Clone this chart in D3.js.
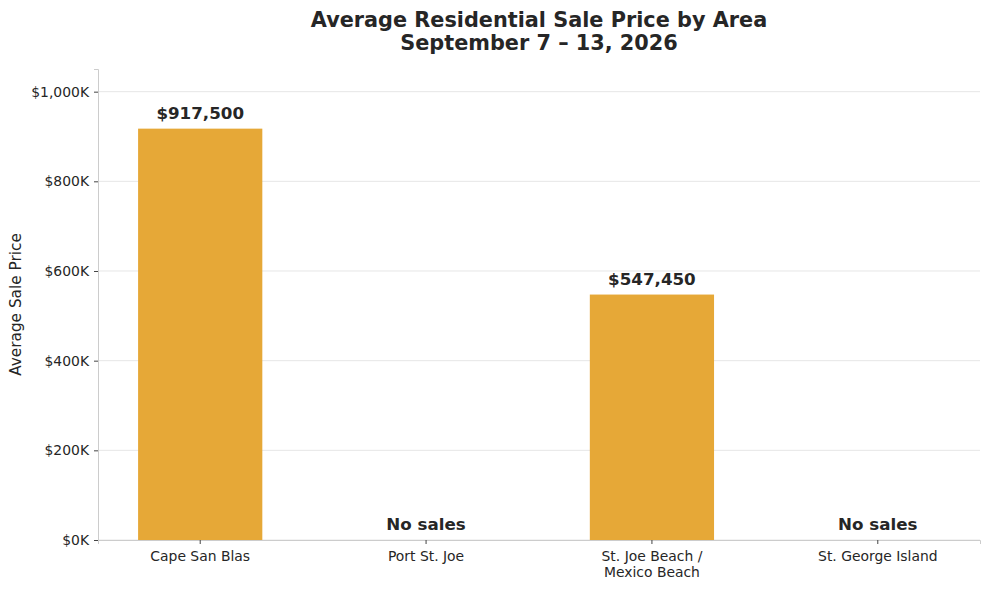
<!DOCTYPE html>
<html>
<head>
<meta charset="utf-8">
<script src="https://cdn.jsdelivr.net/npm/d3@7"></script>
<style>
  body { margin: 0; background: #fff; }
  text { font-family: "DejaVu Sans", sans-serif; fill: #262626; }
</style>
</head>
<body>
<div id="chart"></div>
<script>
// data
var areas = ["Cape San Blas", "Port St. Joe", "St. Joe Beach /\nMexico Beach", "St. George Island"];
var avgPrice = [917500, null, 547450, null];
var yTicks = [0, 200000, 400000, 600000, 800000, 1000000];
var titleLines = ["Average Residential Sale Price by Area", "September 7 \u2013 13, 2026"];

var W = 989, H = 590;
var margin = {top: 69, right: 9, bottom: 50, left: 98},
    width = W - margin.left - margin.right,
    height = H - margin.top - margin.bottom;

var svg = d3.select("#chart")
    .append("svg")
    .attr("width", W)
    .attr("height", H);

// title
svg.append("g")
    .selectAll("text")
    .data(titleLines)
    .enter()
    .append("text")
    .attr("x", margin.left + width / 2)
    .attr("y", function(d, i) { return 27 + i * 23 })
    .attr("text-anchor", "middle")
    .style("font-size", "20.8px")
    .style("font-weight", "bold")
    .text(function(d) { return d });

var g = svg.append("g")
    .attr("transform", "translate(" + margin.left + "," + margin.top + ")");

var x = d3.scaleBand()
    .domain(areas)
    .range([0, width])
    .paddingInner(0.45)
    .paddingOuter(0.1775);

// headroom above the tallest bar
var yMax = d3.max(avgPrice) * 1.145;
var y = d3.scaleLinear()
    .domain([0, yMax])
    .range([height, 0]);

// gridlines
g.append("g")
    .selectAll("line")
    .data(yTicks)
    .enter()
    .append("line")
    .attr("x1", 0)
    .attr("x2", width)
    .attr("y1", function(d) { return y(d) })
    .attr("y2", function(d) { return y(d) })
    .style("stroke", "#e6e6e6")
    .style("stroke-width", 1);

// bars
var rows = areas.map(function(a, i) { return {area: a, value: avgPrice[i]} });

g.selectAll(".bar")
    .data(rows.filter(function(d) { return d.value != null }))
    .enter()
    .append("rect")
    .attr("class", "bar")
    .attr("x", function(d) { return x(d.area) })
    .attr("y", function(d) { return y(d.value) })
    .attr("width", x.bandwidth())
    .attr("height", function(d) { return height - y(d.value) })
    .style("fill", "#e6a837");

// value labels / no sales labels
g.selectAll(".lbl")
    .data(rows)
    .enter()
    .append("text")
    .attr("class", "lbl")
    .attr("x", function(d) { return x(d.area) + x.bandwidth() / 2 })
    .attr("y", function(d) { return d.value != null ? y(d.value) - 10 : height - 10 })
    .attr("text-anchor", "middle")
    .style("font-size", "16.7px")
    .style("font-weight", "bold")
    .text(function(d) { return d.value != null ? "$" + d3.format(",")(d.value) : "No sales" });

// y axis
var yAxis = g.append("g")
    .call(d3.axisLeft(y)
        .tickValues(yTicks)
        .tickSize(4)
        .tickPadding(5)
        .tickFormat(function(d) { return "$" + d3.format(",")(d / 1000) + "K" }));
yAxis.select(".domain").style("stroke", "#cccccc");
yAxis.selectAll(".tick line").style("stroke", "#444");
yAxis.selectAll(".tick text")
    .style("font-size", "13.9px")
    .style("font-family", "DejaVu Sans, sans-serif")
    .style("fill", "#262626");

// x axis
var xAxis = g.append("g")
    .attr("transform", "translate(0," + height + ")")
    .call(d3.axisBottom(x).tickSize(4).tickPadding(7));
xAxis.select(".domain").style("stroke", "#cccccc");
xAxis.selectAll(".tick line").style("stroke", "#444");
xAxis.selectAll(".tick text")
    .style("font-size", "13.9px")
    .style("font-family", "DejaVu Sans, sans-serif")
    .style("fill", "#262626")
    .each(function(d) {
        var t = d3.select(this);
        var lines = d.split("\n");
        t.text(null);
        lines.forEach(function(l, i) {
            t.append("tspan")
                .attr("x", 0)
                .attr("dy", i == 0 ? "0.71em" : "1.16em")
                .text(l);
        });
    })
    .attr("dy", null);

// y label
svg.append("text")
    .attr("transform", "translate(21," + (margin.top + height / 2) + ") rotate(-90)")
    .attr("text-anchor", "middle")
    .style("font-size", "15.3px")
    .text("Average Sale Price");
</script>
</body>
</html>
